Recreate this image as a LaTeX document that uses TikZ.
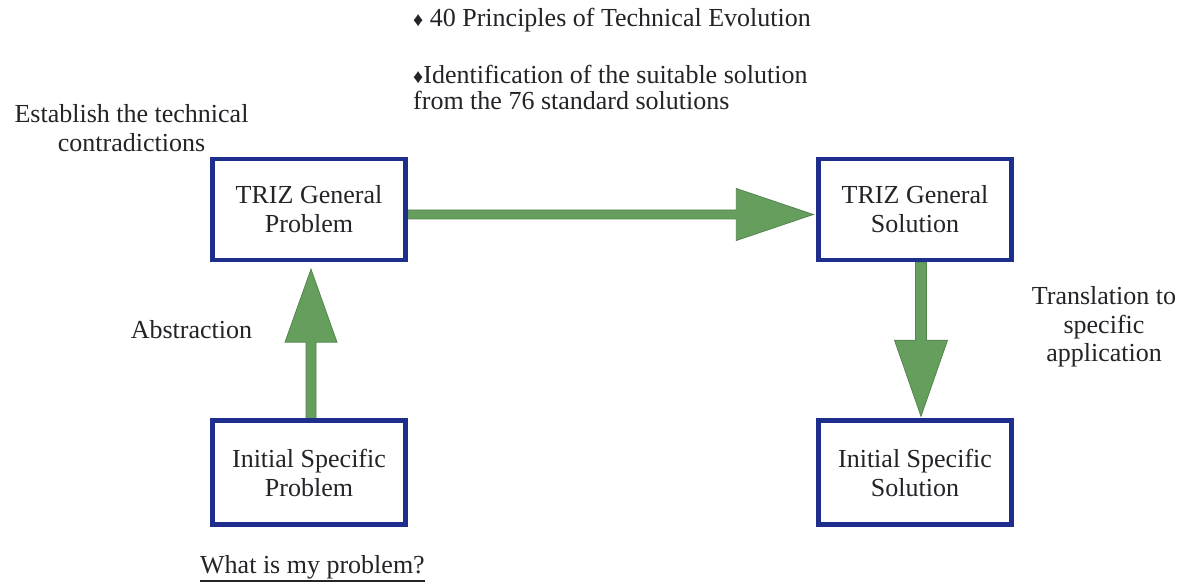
\documentclass[tikz,border=0pt]{standalone}
\usepackage{fontspec}
\setmainfont{Liberation Serif}
\usetikzlibrary{calc,backgrounds}
\definecolor{boxblue}{RGB}{30,46,140}
\definecolor{arrowgreen}{RGB}{102,158,94}
\definecolor{arrowedge}{RGB}{82,134,76}
\definecolor{ink}{RGB}{35,35,40}
\begin{document}
\begin{tikzpicture}[x=1pt,y=-1pt,
  stepbox/.style={draw=boxblue, line width=4.5pt, minimum width=193pt, minimum height=101pt, inner sep=0pt, align=center, text=ink, font=\fontsize{26}{29}\selectfont},
  txt/.style={text=ink, inner sep=0pt, font=\fontsize{26}{29}\selectfont},
  blockarrow/.style={fill=arrowgreen, draw=arrowedge, line width=0.8pt, line join=miter}]
\useasboundingbox (0,0) rectangle (1181,585);

% boxes
\node[stepbox] (gp) at (309,209.5) {TRIZ General\\Problem};
\node[stepbox] (gs) at (915,209.5) {TRIZ General\\Solution};
\node[stepbox, minimum height=104pt] (isp) at (309,472.5) {Initial Specific\\Problem};
\node[stepbox, minimum height=104pt] (iss) at (915,472.5) {Initial Specific\\Solution};

% block arrows
\begin{scope}[on background layer]
\fill[white] (0,0) rectangle (1181,585);
\coordinate (u0) at ([xshift=2pt]isp.north);
\coordinate (u1) at ([xshift=2pt,yshift=-7pt]gp.south);
\draw[blockarrow] ($(u0)+(-5,0)$) -- ($(u1)+(-5,73)$) -- ($(u1)+(-26,73)$) -- (u1)
  -- ($(u1)+(26,73)$) -- ($(u1)+(5,73)$) -- ($(u0)+(5,0)$) -- cycle;

\coordinate (r0) at ([yshift=-5pt]gp.east);
\coordinate (r1) at ([xshift=-3pt,yshift=-5pt]gs.west);
\draw[blockarrow] ($(r0)+(0,-4.5)$) -- ($(r1)+(-77,-4.5)$) -- ($(r1)+(-77,-26)$) -- (r1)
  -- ($(r1)+(-77,26)$) -- ($(r1)+(-77,4.5)$) -- ($(r0)+(0,4.5)$) -- cycle;

\coordinate (d0) at ([xshift=6pt]gs.south);
\coordinate (d1) at ([xshift=6pt,yshift=2pt]iss.north);
\draw[blockarrow] ($(d0)+(-5.5,0)$) -- ($(d1)+(-5.5,-76)$) -- ($(d1)+(-26.5,-76)$) -- (d1)
  -- ($(d1)+(26.5,-76)$) -- ($(d1)+(5.5,-76)$) -- ($(d0)+(5.5,0)$) -- cycle;
\end{scope}

% texts (base anchor of a multi-line node = baseline of its last line)
\node[txt, anchor=base west] (t1) at (413,27) {{\fontsize{20}{20}\selectfont ♦} 40 Principles of Technical Evolution};
\node[txt, anchor=base west, align=left, font=\fontsize{26}{26}\selectfont] (t2) at (413,110) {{\fontsize{20}{20}\selectfont ♦}Identification of the suitable solution\\from the 76 standard solutions};
\node[txt, anchor=base, align=center] (est) at (131.5,152) {Establish the technical\\contradictions};
\node[txt, anchor=base] (abs) at (191.5,338) {Abstraction};
\node[txt, anchor=base, align=center, font=\fontsize{26}{28.5}\selectfont] (tr) at (1104,362) {Translation to\\specific\\application};
\node[txt, anchor=base west] (wp) at (200,573) {What is my problem?};
\draw[ink, line width=1.3pt] ([yshift=-8pt]wp.base west) -- ([yshift=-8pt]wp.base east);
\end{tikzpicture}
\end{document}
